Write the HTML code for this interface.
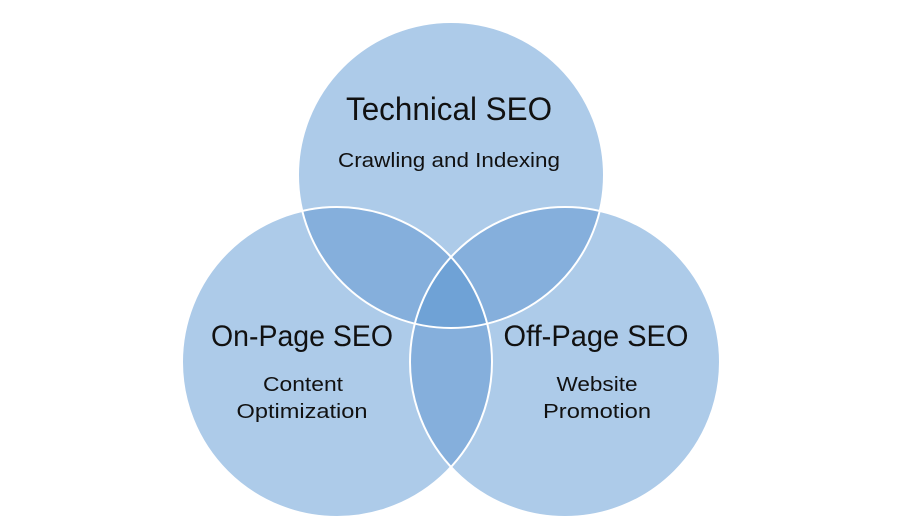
<!DOCTYPE html>
<html><head><style>
html,body{margin:0;padding:0;background:#fff;width:900px;height:525px;overflow:hidden}
text{font-family:"Liberation Sans",sans-serif;fill:#111}
</style></head><body>
<svg width="900" height="525" viewBox="0 0 900 525">
<defs>
<clipPath id="cT"><circle cx="451" cy="175" r="153"/></clipPath>
<clipPath id="cL"><circle cx="337" cy="362" r="155"/></clipPath>
<clipPath id="cR"><circle cx="565" cy="362" r="155"/></clipPath>
</defs>
<circle cx="451" cy="175" r="153" fill="#adcbe9"/>
<circle cx="337" cy="362" r="155" fill="#adcbe9"/>
<circle cx="565" cy="362" r="155" fill="#adcbe9"/>
<g clip-path="url(#cT)"><circle cx="337" cy="362" r="155" fill="#85afdc"/><circle cx="565" cy="362" r="155" fill="#85afdc"/></g>
<g clip-path="url(#cL)"><circle cx="565" cy="362" r="155" fill="#85afdc"/></g>
<g clip-path="url(#cT)"><g clip-path="url(#cL)"><circle cx="565" cy="362" r="155" fill="#6fa2d6"/></g></g>
<g fill="none" stroke="#fff" stroke-width="2">
<circle cx="451" cy="175" r="153"/>
<circle cx="337" cy="362" r="155"/>
<circle cx="565" cy="362" r="155"/>
</g>
<text x="449" y="120" font-size="32" text-anchor="middle" textLength="206" lengthAdjust="spacingAndGlyphs">Technical SEO</text>
<text x="449" y="167" font-size="20" text-anchor="middle" textLength="222" lengthAdjust="spacingAndGlyphs">Crawling and Indexing</text>
<text x="302" y="346" font-size="30" text-anchor="middle" textLength="182" lengthAdjust="spacingAndGlyphs">On-Page SEO</text>
<text x="303" y="391" font-size="20" text-anchor="middle" textLength="80" lengthAdjust="spacingAndGlyphs">Content</text>
<text x="302" y="418" font-size="20" text-anchor="middle" textLength="131" lengthAdjust="spacingAndGlyphs">Optimization</text>
<text x="596" y="346" font-size="30" text-anchor="middle" textLength="185" lengthAdjust="spacingAndGlyphs">Off-Page SEO</text>
<text x="597" y="391" font-size="20" text-anchor="middle" textLength="81" lengthAdjust="spacingAndGlyphs">Website</text>
<text x="597" y="418" font-size="20" text-anchor="middle" textLength="108" lengthAdjust="spacingAndGlyphs">Promotion</text>
</svg>
</body></html>
